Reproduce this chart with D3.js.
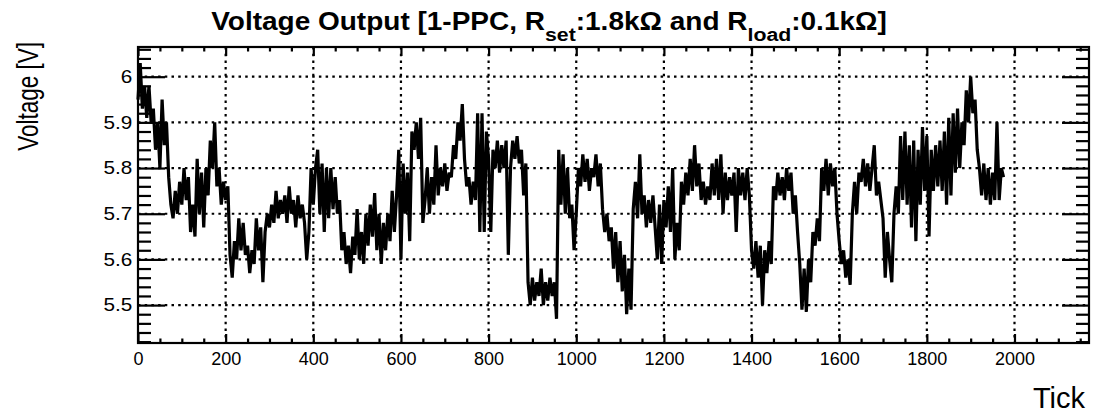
<!DOCTYPE html>
<html lang="en">
<head>
<meta charset="utf-8">
<title>Voltage Output</title>
<script src="https://d3js.org/d3.v7.min.js"></script>
<style>
  body { margin: 0; background: #fff; }
  text { font-family: "Liberation Sans", Arial, Helvetica, sans-serif; fill: #000; }
  .frame { fill: none; stroke: #000; stroke-width: 2.2px; }
  .grid line { stroke: #000; stroke-width: 2.2px; stroke-dasharray: 2.5,4.2; }
  .trace { fill: none; stroke: #000; stroke-width: 3.2px; stroke-linejoin: miter; stroke-miterlimit: 3; }
  .axis path { display: none; }
  .axis line { stroke: #000; stroke-width: 2.2px; }
</style>
</head>
<body>
<div id="chart"></div>
<script>
// one sample every 5 ticks (upper / lower edge of the noisy band)
const tickStep = 5
const v0000 = [5.95,6.03,5.93,5.98,5.91,5.98,5.90,5.93,5.84,5.90,5.80,5.95,5.85,5.90,5.78,5.72,5.69,5.75,5.70,5.77]
const v0100 = [5.72,5.80,5.73,5.78,5.66,5.72,5.65,5.82,5.70,5.79,5.67,5.80,5.74,5.86,5.80,5.90,5.76,5.80,5.72,5.77]
const v0200 = [5.73,5.76,5.61,5.56,5.64,5.60,5.69,5.62,5.68,5.61,5.63,5.57,5.62,5.59,5.69,5.62,5.67,5.55,5.66,5.70]
const v0300 = [5.67,5.72,5.68,5.75,5.69,5.73,5.70,5.74,5.68,5.76,5.70,5.73,5.67,5.74,5.69,5.72,5.68,5.60,5.66,5.80]
const v0400 = [5.72,5.80,5.84,5.70,5.81,5.66,5.80,5.69,5.80,5.71,5.78,5.70,5.73,5.62,5.66,5.59,5.63,5.57,5.65,5.61]
const v0500 = [5.71,5.60,5.66,5.59,5.70,5.63,5.72,5.65,5.745,5.62,5.70,5.59,5.68,5.62,5.70,5.64,5.75,5.66,5.74,5.84]
const v0600 = [5.60,5.81,5.70,5.79,5.64,5.88,5.84,5.90,5.82,5.91,5.68,5.73,5.80,5.70,5.78,5.72,5.85,5.74,5.80,5.76]
const v0700 = [5.81,5.75,5.79,5.78,5.85,5.82,5.90,5.86,5.94,5.82,5.76,5.78,5.72,5.77,5.73,5.92,5.66,5.92,5.66,5.88]
const v0800 = [5.82,5.66,5.84,5.80,5.86,5.79,5.85,5.80,5.86,5.61,5.80,5.86,5.82,5.87,5.81,5.84,5.74,5.81,5.55,5.50]
const v0900 = [5.56,5.51,5.55,5.52,5.58,5.50,5.55,5.51,5.56,5.52,5.55,5.47,5.84,5.72,5.83,5.70,5.80,5.69,5.72,5.62]
const v1000 = [5.70,5.80,5.76,5.83,5.77,5.82,5.75,5.80,5.78,5.83,5.76,5.81,5.71,5.66,5.70,5.64,5.67,5.58,5.66,5.55]
const v1100 = [5.64,5.53,5.61,5.48,5.58,5.49,5.71,5.77,5.69,5.83,5.70,5.74,5.67,5.73,5.68,5.74,5.67,5.60,5.72,5.59]
const v1200 = [5.73,5.67,5.76,5.66,5.80,5.60,5.68,5.62,5.77,5.72,5.79,5.74,5.82,5.75,5.85,5.76,5.81,5.73,5.77,5.72]
const v1300 = [5.76,5.73,5.81,5.74,5.82,5.73,5.83,5.70,5.79,5.73,5.78,5.74,5.79,5.66,5.80,5.74,5.79,5.73,5.80,5.74]
const v1400 = [5.62,5.58,5.64,5.56,5.63,5.50,5.62,5.57,5.64,5.59,5.76,5.73,5.79,5.74,5.78,5.73,5.80,5.75,5.79,5.70]
const v1500 = [5.74,5.66,5.59,5.49,5.58,5.485,5.60,5.55,5.66,5.63,5.69,5.64,5.80,5.75,5.82,5.74,5.81,5.76,5.80,5.70]
const v1600 = [5.64,5.59,5.62,5.56,5.60,5.544,5.70,5.77,5.70,5.79,5.77,5.82,5.76,5.81,5.75,5.80,5.85,5.74,5.77,5.73]
const v1700 = [5.69,5.56,5.66,5.60,5.55,5.70,5.76,5.70,5.87,5.73,5.88,5.72,5.85,5.67,5.86,5.64,5.84,5.72,5.89,5.75]
const v1800 = [5.87,5.65,5.84,5.75,5.85,5.76,5.86,5.75,5.88,5.72,5.91,5.74,5.92,5.79,5.93,5.80,5.90,5.85,5.97,5.90]
const v1900 = [6.00,5.92,5.95,5.84,5.80,5.74,5.81,5.73,5.80,5.72,5.79,5.73,5.90,5.73,5.80,5.78]

const voltage = [].concat(v0000, v0100, v0200, v0300, v0400, v0500, v0600, v0700, v0800, v0900,
                          v1000, v1100, v1200, v1300, v1400, v1500, v1600, v1700, v1800, v1900)
const samples = voltage.map((v, i) => ({ tick: i * tickStep, v: v }))

const xMajor = [0, 200, 400, 600, 800, 1000, 1200, 1400, 1600, 1800, 2000]
const yMajor = [5.5, 5.6, 5.7, 5.8, 5.9, 6.0]
const xRange = [0, 2170]
const yRange = [5.417, 6.065]

const width = 1094
const height = 413
const frame = { left: 138, right: 1089, top: 47, bottom: 343 }

const svg = d3.select("#chart").append("svg")
    .attr("width", width)
    .attr("height", height)

const x = d3.scaleLinear().domain(xRange).range([frame.left, frame.right])
const y = d3.scaleLinear().domain(yRange).range([frame.bottom, frame.top])

const xMinor = d3.range(0, xRange[1], 50).filter(t => t % 200 !== 0)
const yMinor = d3.range(5.42, 6.065, 0.02).map(v => +v.toFixed(2)).filter(v => Math.round(v * 100) % 10 !== 0)

// grid
const grid = svg.append("g").attr("class", "grid")
grid.selectAll(".gx").data(xMajor.filter(t => t > 0)).enter().append("line")
    .attr("x1", d => x(d)).attr("x2", d => x(d))
    .attr("y1", frame.top).attr("y2", frame.bottom)
grid.selectAll(".gy").data(yMajor).enter().append("line")
    .attr("x1", frame.left).attr("x2", frame.right)
    .attr("y1", d => y(d)).attr("y2", d => y(d))

// trace
svg.append("path")
    .datum(samples)
    .attr("class", "trace")
    .attr("d", d3.line().x(d => x(d.tick)).y(d => y(d.v)))

// axes: major with labels, minor without, plus mirrored ticks
svg.append("g").attr("class", "axis")
    .attr("transform", `translate(0,${frame.bottom})`)
    .call(d3.axisBottom(x).tickValues(xMajor).tickSize(-9).tickPadding(9).tickFormat(d3.format("d")))
    .selectAll("text").style("font-size", "18px")
svg.append("g").attr("class", "axis")
    .attr("transform", `translate(0,${frame.bottom})`)
    .call(d3.axisBottom(x).tickValues(xMinor).tickSize(-4.5).tickFormat(""))
svg.append("g").attr("class", "axis")
    .attr("transform", `translate(0,${frame.top})`)
    .call(d3.axisTop(x).tickValues(xMajor).tickSize(-9).tickFormat(""))
svg.append("g").attr("class", "axis")
    .attr("transform", `translate(0,${frame.top})`)
    .call(d3.axisTop(x).tickValues(xMinor).tickSize(-4.5).tickFormat(""))

svg.append("g").attr("class", "axis")
    .attr("transform", `translate(${frame.left},0)`)
    .call(d3.axisLeft(y).tickValues(yMajor).tickSize(-27).tickPadding(5).tickFormat(d => String(+d.toFixed(1))))
    .selectAll("text").style("font-size", "18px")
    .attr("transform", "scale(1.15,1)")
svg.append("g").attr("class", "axis")
    .attr("transform", `translate(${frame.left},0)`)
    .call(d3.axisLeft(y).tickValues(yMinor).tickSize(-13).tickFormat(""))
svg.append("g").attr("class", "axis")
    .attr("transform", `translate(${frame.right},0)`)
    .call(d3.axisRight(y).tickValues(yMajor).tickSize(-27).tickFormat(""))
svg.append("g").attr("class", "axis")
    .attr("transform", `translate(${frame.right},0)`)
    .call(d3.axisRight(y).tickValues(yMinor).tickSize(-13).tickFormat(""))

svg.append("rect").attr("class", "frame")
    .attr("x", frame.left).attr("y", frame.top)
    .attr("width", frame.right - frame.left).attr("height", frame.bottom - frame.top)

// title with subscripts
const title = svg.append("text")
    .attr("transform", `translate(${width / 2 + 2},30) scale(1.12,1)`)
    .attr("text-anchor", "middle")
    .style("font-size", "25px").style("font-weight", "bold")
title.append("tspan").text("Voltage Output [1-PPC, R")
title.append("tspan").attr("dy", 11).style("font-size", "19px").text("set")
title.append("tspan").attr("dy", -11).text(":1.8kΩ and R")
title.append("tspan").attr("dy", 11).style("font-size", "19px").text("load")
title.append("tspan").attr("dy", -11).text(":0.1kΩ]")

// axis titles
svg.append("text")
    .attr("transform", "translate(38,42) scale(1.35,1) rotate(-90)")
    .attr("text-anchor", "end")
    .style("font-size", "22.5px")
    .text("Voltage [V]")
svg.append("text")
    .attr("x", 1085).attr("y", 408)
    .attr("text-anchor", "end")
    .style("font-size", "29px")
    .text("Tick")
</script>
</body>
</html>
